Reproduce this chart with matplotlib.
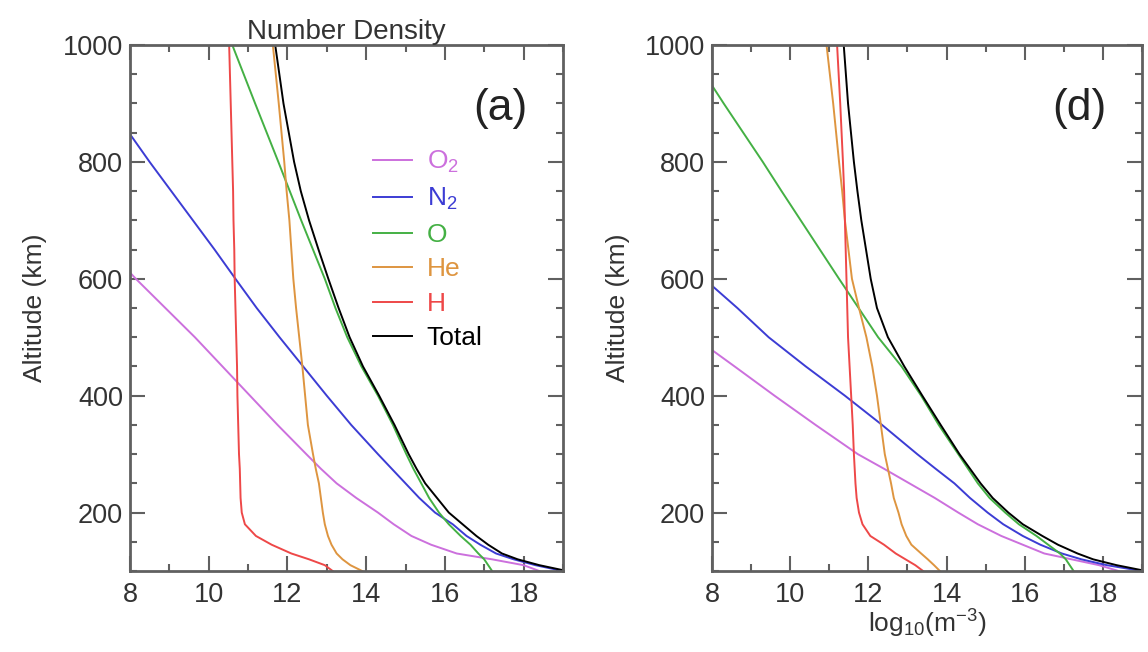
import matplotlib
matplotlib.use('Agg')
import matplotlib.pyplot as plt
from matplotlib.ticker import MultipleLocator
import numpy as np

plt.rcParams['font.family'] = ['Liberation Sans', 'DejaVu Sans']
plt.rcParams['mathtext.fontset'] = 'custom'
plt.rcParams['mathtext.rm'] = 'Liberation Sans'
plt.rcParams['mathtext.it'] = 'Liberation Sans:italic'

nan = np.nan

# altitude grid (km) shared by every curve
alt = [100, 110, 120, 130, 145, 160, 180, 200, 225, 250, 275, 300, 350, 400,
       450, 500, 550, 600, 650, 700, 750, 800, 900, 1000]

# panel (a): log10 number density (m^-3)
o2_a = [18.4, 18.0, 17.2, 16.3, 15.65, 15.15, 14.7, 14.3, 13.75, 13.25, 12.85, 12.48, 11.75, 11.05,
        10.35, 9.65, 8.9, 8.15, 7.45, 6.8, nan, nan, nan, nan]
n2_a = [19.0, 18.3, 17.75, 17.3, 16.9, 16.55, 16.2, 15.75, 15.35, 15.0, 14.65, 14.3, 13.62, 13.0,
        12.4, 11.8, 11.22, 10.68, 10.15, 9.6, 9.05, 8.5, 7.45, nan]
o_a = [17.2, 17.1, 17.0, 16.85, 16.65, 16.4, 16.1, 15.85, 15.6, 15.4, 15.2, 15.02, 14.68, 14.3,
       13.88, 13.52, 13.22, 12.95, 12.65, 12.35, 12.06, 11.77, 11.18, 10.6]
he_a = [13.9, 13.6, 13.4, 13.25, 13.12, 13.03, 12.95, 12.9, 12.85, 12.8, 12.72, 12.65, 12.52, 12.45,
        12.38, 12.3, 12.22, 12.15, 12.1, 12.05, 11.98, 11.92, 11.78, 11.63]
h_a = [13.15, 12.95, 12.55, 12.1, 11.6, 11.2, 10.92, 10.84, 10.81, 10.8, 10.79, 10.77, 10.75, 10.73,
       10.72, 10.7, 10.68, 10.66, 10.65, 10.63, 10.62, 10.6, 10.56, 10.52]
tot_a = [19.1, 18.4, 17.85, 17.45, 17.1, 16.8, 16.45, 16.1, 15.8, 15.5, 15.28, 15.08, 14.72, 14.33,
         13.92, 13.58, 13.3, 13.04, 12.79, 12.55, 12.34, 12.17, 11.9, 11.69]

# panel (d)
o2_d = [18.4, 17.9, 17.2, 16.5, 15.95, 15.4, 14.8, 14.3, 13.7, 13.05, 12.4, 11.73, 10.65, 9.6,
        8.58, 7.55, nan, nan, nan, nan, nan, nan, nan, nan]
n2_d = [19.0, 18.1, 17.45, 16.95, 16.4, 15.95, 15.45, 15.05, 14.6, 14.2, 13.72, 13.25, 12.35, 11.4,
        10.4, 9.45, 8.65, 7.8, 7.0, 6.2, nan, nan, nan, nan]
o_d = [17.25, 17.15, 17.05, 16.9, 16.6, 16.3, 15.85, 15.5, 15.1, 14.8, 14.55, 14.3, 13.8, 13.35,
       12.85, 12.25, 11.75, 11.25, 10.76, 10.27, 9.78, 9.3, 8.3, 7.33]
he_d = [13.83, 13.68, 13.52, 13.35, 13.1, 12.97, 12.85, 12.77, 12.65, 12.58, 12.5, 12.42, 12.32, 12.22,
        12.1, 11.95, 11.76, 11.58, 11.49, 11.4, 11.33, 11.25, 11.1, 10.93]
h_d = [13.4, 13.2, 12.95, 12.7, 12.4, 12.05, 11.85, 11.76, 11.7, 11.67, 11.65, 11.63, 11.6, 11.56,
       11.52, 11.48, 11.46, 11.44, 11.42, 11.4, 11.38, 11.35, 11.28, 11.2]
tot_d = [19.1, 18.35, 17.75, 17.35, 16.85, 16.45, 15.95, 15.58, 15.18, 14.87, 14.6, 14.33, 13.85, 13.38,
         12.92, 12.5, 12.22, 12.06, 11.94, 11.82, 11.72, 11.63, 11.48, 11.37]

labels = ['O$_2$', 'N$_2$', 'O', 'He', 'H', 'Total']
colors = ['#cc70dd', '#3c3cd4', '#44b044', '#de9540', '#ee4848', 'black']

gray = '#606060'
txt = '#333333'

fig = plt.figure(figsize=(11.48, 6.52), dpi=100)
ax1 = fig.add_axes([0.1132, 0.1242, 0.3772, 0.8067])
ax2 = fig.add_axes([0.6202, 0.1242, 0.3746, 0.8067])

for ax, series, tag in [(ax1, [o2_a, n2_a, o_a, he_a, h_a, tot_a], '(a)'),
                        (ax2, [o2_d, n2_d, o_d, he_d, h_d, tot_d], '(d)')]:
    for vals, lab, c in zip(series, labels, colors):
        ax.plot(vals, alt, color=c, lw=1.4, label=lab)
    ax.set_xlim(8, 19)
    ax.set_ylim(100, 1000)
    ax.xaxis.set_major_locator(MultipleLocator(2))
    ax.xaxis.set_minor_locator(MultipleLocator(1))
    ax.yaxis.set_minor_locator(MultipleLocator(50))
    ax.set_yticks([200, 400, 600, 800, 1000])
    ax.tick_params(which='both', direction='in', top=True, right=True,
                   color=gray, width=1.5, labelcolor=txt, labelsize=19.5)
    ax.tick_params(which='major', length=11)
    ax.tick_params(which='minor', length=5)
    ax.tick_params(axis='x', pad=8)
    ax.tick_params(axis='y', pad=5)
    for sp in ax.spines.values():
        sp.set_color(gray)
        sp.set_linewidth(2)
    ax.set_ylabel('Altitude (km)', fontsize=19, color=txt, labelpad=11)
    ax.text(0.855, 0.88, tag, transform=ax.transAxes, fontsize=32,
            ha='center', va='center', color='#222222')

ax1.set_title('Number Density', fontsize=20, color=txt, pad=3)
ax2.set_xlabel('log$_{10}$(m$^{-3}$)', fontsize=19, color=txt, labelpad=0)

ax1.legend(loc='upper left', bbox_to_anchor=(0.53, 0.827), frameon=False,
           fontsize=19, handlelength=1.5, handletextpad=0.55,
           labelspacing=0.4, borderpad=0, labelcolor='linecolor')

fig.savefig('out.png', dpi=100)
